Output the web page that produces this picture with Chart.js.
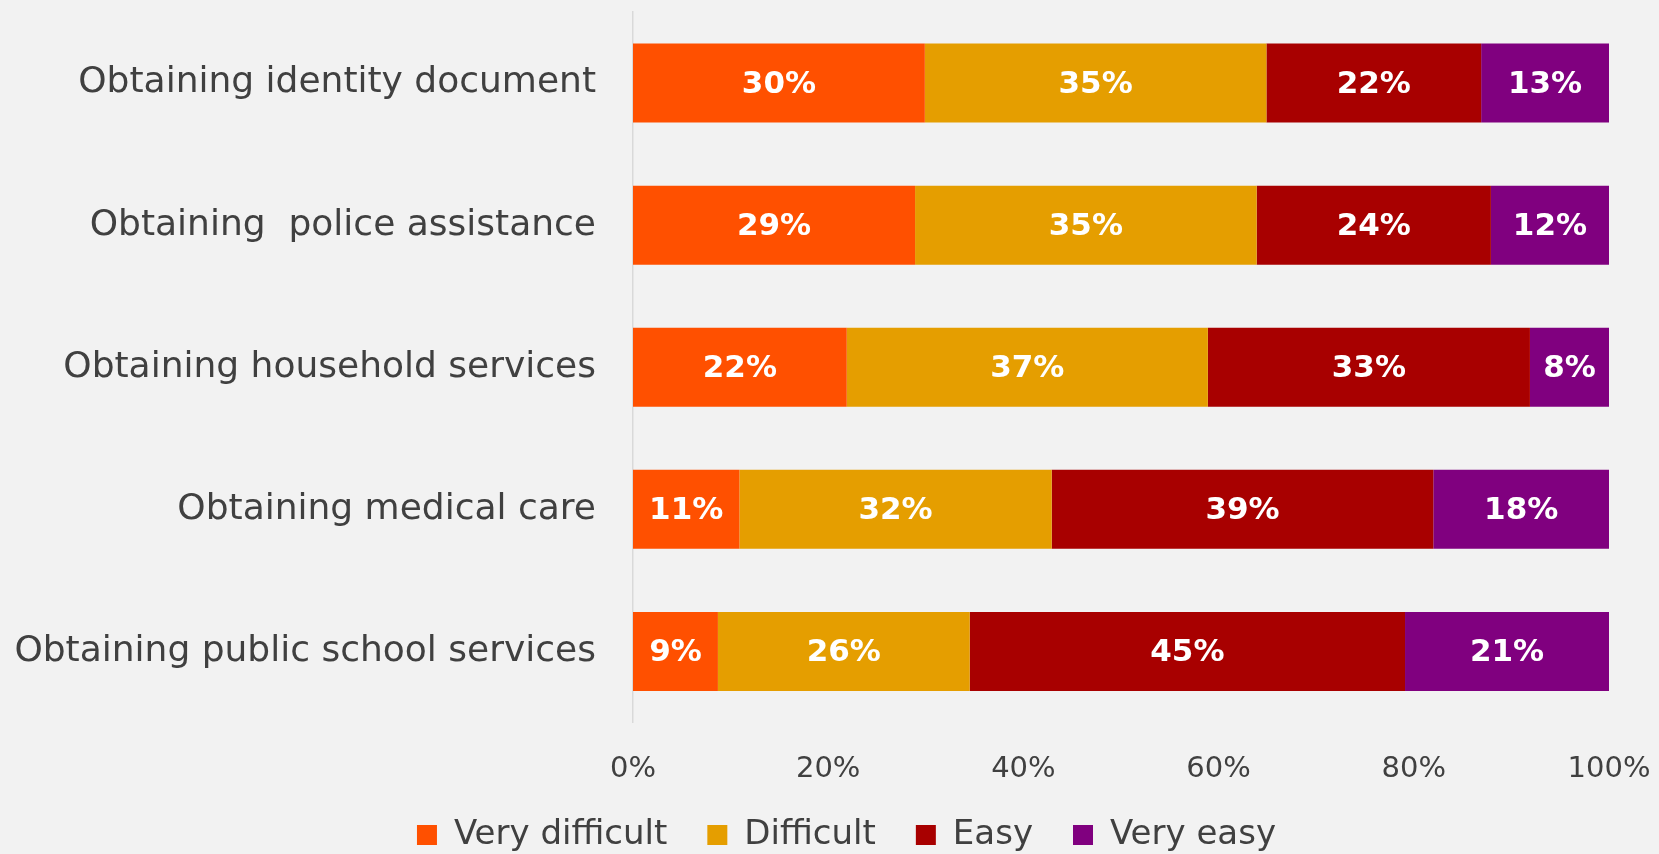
<!DOCTYPE html>
<html>
<head>
<meta charset="utf-8">
<script src="https://cdn.jsdelivr.net/npm/chart.js@4"></script>
<style>
  body { margin: 0; background: #f2f2f2; }
  canvas { display: block; }
</style>
</head>
<body>
<canvas id="chart" width="1659" height="854"></canvas>
<script>
// ---------------- DATA ----------------
const categories = [
    "Obtaining identity document",
    "Obtaining  police assistance",
    "Obtaining household services",
    "Obtaining medical care",
    "Obtaining public school services"
];
const seriesNames = ["Very difficult", "Difficult", "Easy", "Very easy"];
const veryDifficult = [29.9, 28.9, 21.9, 10.9, 8.7];
const difficult     = [35.0, 35.0, 37.0, 32.0, 25.8];
const easy          = [22.0, 24.0, 33.0, 39.1, 44.6];
const veryEasy      = [13.1, 12.1, 8.1, 18.0, 20.9];
const xTicks = [0, 20, 40, 60, 80, 100];

const colors = ["#ff5000", "#e59e00", "#a80000", "#80007f"];
const textColor = "#404040";
const fontFamily = "'DejaVu Sans', sans-serif";

// ---------------- LABELS INSIDE BARS ----------------
const barLabels = {
    id: "barLabels",
    afterDatasetsDraw(chart) {
        const ctx = chart.ctx;
        ctx.save();
        ctx.fillStyle = "#ffffff";
        ctx.font = "bold 31px " + fontFamily;
        ctx.textAlign = "center";
        ctx.textBaseline = "middle";
        chart.data.datasets.forEach((ds, i) => {
            chart.getDatasetMeta(i).data.forEach((bar, j) => {
                const p = bar.getCenterPoint();
                ctx.fillText(Math.round(ds.data[j]) + "%", p.x, p.y + 2);
            });
        });
        ctx.restore();
    }
};

// legend sits a bit right of the canvas centre in the original
const legendShift = {
    id: "legendShift",
    afterLayout(chart) {
        const lg = chart.legend;
        if (!lg) return;
        lg.left += 17;
        lg.right += 17;
        if (lg.adjustHitBoxes) lg.adjustHitBoxes();
    }
};

// ---------------- CHART ----------------
new Chart(document.getElementById("chart"), {
    type: "bar",
    data: {
        labels: categories,
        datasets: [veryDifficult, difficult, easy, veryEasy].map((d, i) => ({
            label: seriesNames[i],
            data: d,
            backgroundColor: colors[i],
            borderWidth: 0,
            categoryPercentage: 1,
            barPercentage: 0.556
        }))
    },
    options: {
        indexAxis: "y",
        responsive: false,
        animation: false,
        layout: { padding: { top: 12, right: 0, left: 0, bottom: -8 } },
        scales: {
            x: {
                stacked: true,
                min: 0,
                max: 100,
                afterBuildTicks: s => { s.ticks = xTicks.map(v => ({ value: v })); },
                afterFit: s => {
                    s.height = 55.5;
                    s.paddingLeft = 0;
                    s.paddingRight = 50;
                },
                grid: { display: false, drawTicks: false },
                border: { display: false },
                ticks: {
                    padding: 30,
                    color: textColor,
                    font: { family: fontFamily, size: 29 },
                    callback: v => v + "%"
                }
            },
            y: {
                stacked: true,
                afterFit: s => {
                    s.width = 633;
                    s.paddingTop = 0;
                    s.paddingBottom = 0;
                },
                grid: { display: false, drawTicks: false },
                border: { display: true, color: "#d9d9d9", width: 1.5 },
                ticks: {
                    padding: 37,
                    color: textColor,
                    font: { family: fontFamily, size: 36 }
                }
            }
        },
        plugins: {
            tooltip: { enabled: false },
            legend: {
                position: "bottom",
                labels: {
                    boxWidth: 20,
                    boxHeight: 20,
                    padding: 40,
                    color: textColor,
                    font: { family: fontFamily, size: 34 }
                }
            }
        }
    },
    plugins: [barLabels, legendShift]
});
</script>
</body>
</html>
